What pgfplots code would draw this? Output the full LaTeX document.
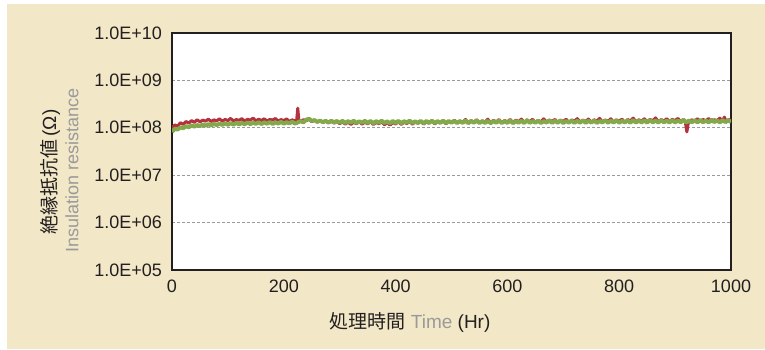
\documentclass[border=0pt]{standalone}
\usepackage{pgfplots}
\pgfplotsset{compat=1.18}
\usepackage{fontspec}
\setmainfont{Liberation Sans}
\newfontfamily\cjk{Noto Sans CJK JP}
\definecolor{beige}{HTML}{F2E8C7}
\definecolor{redser}{HTML}{B3323E}
\definecolor{greenser}{HTML}{84A94B}
\definecolor{txt}{HTML}{231F20}
\definecolor{graytxt}{HTML}{9A9A9A}
\begin{document}
\begin{tikzpicture}[x=1pt,y=1pt]
\useasboundingbox (0,0) rectangle (382.5,174.5);
\fill[white] (0,0) rectangle (382.5,174.5);
\fill[beige] (3.5,0) rectangle (382.5,172.5);
\begin{axis}[
  at={(86pt,39.5pt)}, anchor=south west,
  scale only axis, width=279.5pt, height=118.5pt,
  ymode=log, xmin=0, xmax=1000, ymin=1e5, ymax=1e10,
  axis background/.style={fill=white},
  axis line style={color=txt, line width=0.75pt},
  major tick length=0pt, minor tick num=0,
  xtick={0,200,400,600,800,1000},
  xticklabels={0,200,400,600,800,1000},
  ytick={1e5,1e6,1e7,1e8,1e9,1e10},
  yticklabels={1.0E+05,1.0E+06,1.0E+07,1.0E+08,1.0E+09,1.0E+10},
  log basis y=10,
  yminorticks=false,
  ymajorgrids,
  major grid style={color=gray!80, dash pattern=on 1.5pt off 1pt, line width=0.5pt},
  ticklabel style={font=\fontsize{9}{10}\selectfont, text=txt},
  yticklabel style={xshift=-1.5pt},
  xticklabel style={yshift=-1.5pt},
  clip=true,
]
\addplot[redser, line width=1.5pt, line join=round] coordinates {
(0,1.00e8)(5,1.15e8)(10,1.08e8)(15,1.28e8)(20,1.18e8)(25,1.36e8)(30,1.25e8)(35,1.42e8)(40,1.30e8)(45,1.48e8)
(50,1.33e8)(55,1.45e8)(60,1.38e8)(65,1.52e8)(70,1.36e8)(75,1.47e8)(80,1.40e8)(85,1.55e8)(90,1.37e8)(95,1.50e8)
(100,1.42e8)(105,1.58e8)(110,1.39e8)(115,1.49e8)(120,1.44e8)(125,1.56e8)(130,1.38e8)(135,1.51e8)(140,1.45e8)(145,1.60e8)
(150,1.40e8)(155,1.52e8)(160,1.43e8)(165,1.55e8)(170,1.39e8)(175,1.50e8)(180,1.46e8)(185,1.57e8)(190,1.38e8)(195,1.49e8)
(200,1.42e8)(205,1.54e8)(210,1.36e8)(215,1.47e8)(220,1.40e8)(223,1.44e8)(225,2.60e8)(227,1.42e8)(230,1.36e8)(235,1.48e8)
(240,1.40e8)(245,1.52e8)(250,1.35e8)(255,1.45e8)(260,1.32e8)(265,1.42e8)(270,1.30e8)(275,1.40e8)(280,1.27e8)(285,1.38e8)
(290,1.25e8)(295,1.36e8)(300,1.22e8)(305,1.33e8)(310,1.20e8)(315,1.31e8)(320,1.18e8)(325,1.30e8)(330,1.22e8)(335,1.34e8)
(340,1.19e8)(345,1.32e8)(350,1.21e8)(355,1.35e8)(360,1.17e8)(365,1.30e8)(370,1.22e8)(375,1.33e8)(380,1.16e8)(385,1.28e8)
(390,1.14e8)(395,1.30e8)(400,1.20e8)(405,1.34e8)(410,1.18e8)(415,1.31e8)(420,1.23e8)(425,1.36e8)(430,1.19e8)(435,1.33e8)
(440,1.24e8)(445,1.38e8)(450,1.20e8)(455,1.32e8)(460,1.25e8)(465,1.40e8)(470,1.21e8)(475,1.35e8)(480,1.27e8)(485,1.42e8)
(490,1.22e8)(495,1.37e8)(500,1.28e8)(505,1.45e8)(510,1.26e8)(515,1.40e8)(520,1.30e8)(525,1.50e8)(530,1.27e8)(535,1.42e8)
(540,1.31e8)(545,1.48e8)(550,1.28e8)(555,1.40e8)(560,1.32e8)(565,1.52e8)(570,1.27e8)(575,1.44e8)(580,1.33e8)(585,1.49e8)
(590,1.29e8)(595,1.42e8)(600,1.34e8)(605,1.50e8)(610,1.28e8)(615,1.45e8)(620,1.35e8)(625,1.53e8)(630,1.30e8)(635,1.44e8)
(640,1.36e8)(645,1.51e8)(650,1.29e8)(655,1.43e8)(660,1.34e8)(665,1.55e8)(670,1.31e8)(675,1.46e8)(680,1.37e8)(685,1.50e8)
(690,1.30e8)(695,1.45e8)(700,1.36e8)(705,1.52e8)(710,1.29e8)(715,1.47e8)(720,1.38e8)(725,1.56e8)(730,1.31e8)(735,1.45e8)
(740,1.36e8)(745,1.53e8)(750,1.30e8)(755,1.48e8)(760,1.37e8)(765,1.58e8)(770,1.32e8)(775,1.46e8)(780,1.38e8)(785,1.55e8)
(790,1.31e8)(795,1.47e8)(800,1.39e8)(805,1.52e8)(810,1.30e8)(815,1.49e8)(820,1.40e8)(825,1.60e8)(830,1.33e8)(835,1.48e8)
(840,1.38e8)(845,1.55e8)(850,1.32e8)(855,1.50e8)(860,1.41e8)(865,1.62e8)(870,1.34e8)(875,1.49e8)(880,1.39e8)(885,1.56e8)
(890,1.33e8)(895,1.51e8)(900,1.42e8)(905,1.58e8)(910,1.35e8)(915,1.50e8)(918,1.40e8)(921,0.82e8)(924,1.36e8)(930,1.47e8)
(935,1.39e8)(940,1.55e8)(945,1.34e8)(950,1.50e8)(955,1.40e8)(960,1.57e8)(965,1.35e8)(970,1.48e8)(975,1.41e8)(980,1.60e8)
(985,1.36e8)(988,1.68e8)(992,1.33e8)(996,1.50e8)(1000,1.40e8)
};
\addplot[greenser, line width=2pt, line join=round] coordinates {
(0,0.82e8)(5,0.95e8)(10,0.92e8)(15,1.02e8)(20,0.98e8)(25,1.08e8)(30,1.03e8)(35,1.12e8)(40,1.06e8)(45,1.14e8)
(50,1.09e8)(55,1.17e8)(60,1.11e8)(65,1.19e8)(70,1.12e8)(75,1.21e8)(80,1.14e8)(85,1.22e8)(90,1.15e8)(95,1.24e8)
(100,1.16e8)(105,1.25e8)(110,1.17e8)(115,1.27e8)(120,1.18e8)(125,1.26e8)(130,1.19e8)(135,1.29e8)(140,1.20e8)(145,1.28e8)
(150,1.21e8)(155,1.31e8)(160,1.20e8)(165,1.30e8)(170,1.22e8)(175,1.32e8)(180,1.21e8)(185,1.30e8)(190,1.23e8)(195,1.33e8)
(200,1.22e8)(205,1.31e8)(210,1.24e8)(215,1.34e8)(220,1.23e8)(225,1.30e8)(230,1.38e8)(235,1.30e8)(240,1.48e8)(245,1.55e8)
(250,1.40e8)(255,1.45e8)(260,1.33e8)(265,1.42e8)(270,1.31e8)(275,1.40e8)(280,1.29e8)(285,1.41e8)(290,1.30e8)(295,1.39e8)
(300,1.28e8)(305,1.40e8)(310,1.27e8)(315,1.38e8)(320,1.29e8)(325,1.41e8)(330,1.26e8)(335,1.37e8)(340,1.28e8)(345,1.40e8)
(350,1.27e8)(355,1.39e8)(360,1.25e8)(365,1.38e8)(370,1.28e8)(375,1.41e8)(380,1.26e8)(385,1.37e8)(390,1.24e8)(395,1.39e8)
(400,1.27e8)(405,1.40e8)(410,1.25e8)(415,1.38e8)(420,1.28e8)(425,1.42e8)(430,1.26e8)(435,1.37e8)(440,1.27e8)(445,1.40e8)
(450,1.25e8)(455,1.39e8)(460,1.28e8)(465,1.41e8)(470,1.26e8)(475,1.38e8)(480,1.27e8)(485,1.42e8)(490,1.25e8)(495,1.39e8)
(500,1.28e8)(505,1.40e8)(510,1.26e8)(515,1.38e8)(520,1.27e8)(525,1.41e8)(530,1.25e8)(535,1.39e8)(540,1.28e8)(545,1.42e8)
(550,1.26e8)(555,1.38e8)(560,1.27e8)(565,1.40e8)(570,1.25e8)(575,1.39e8)(580,1.28e8)(585,1.41e8)(590,1.26e8)(595,1.38e8)
(600,1.27e8)(605,1.42e8)(610,1.25e8)(615,1.39e8)(620,1.28e8)(625,1.40e8)(630,1.26e8)(635,1.45e8)(640,1.27e8)(645,1.39e8)
(650,1.28e8)(655,1.41e8)(660,1.26e8)(665,1.38e8)(670,1.29e8)(675,1.42e8)(680,1.27e8)(685,1.40e8)(690,1.28e8)(695,1.43e8)
(700,1.26e8)(705,1.39e8)(710,1.29e8)(715,1.41e8)(720,1.27e8)(725,1.40e8)(730,1.28e8)(735,1.44e8)(740,1.27e8)(745,1.40e8)
(750,1.29e8)(755,1.42e8)(760,1.27e8)(765,1.39e8)(770,1.30e8)(775,1.43e8)(780,1.28e8)(785,1.41e8)(790,1.29e8)(795,1.44e8)
(800,1.28e8)(805,1.40e8)(810,1.30e8)(815,1.42e8)(820,1.28e8)(825,1.45e8)(830,1.29e8)(835,1.41e8)(840,1.30e8)(845,1.43e8)
(850,1.28e8)(855,1.46e8)(860,1.30e8)(865,1.42e8)(870,1.29e8)(875,1.44e8)(880,1.31e8)(885,1.41e8)(890,1.29e8)(895,1.45e8)
(900,1.30e8)(905,1.42e8)(910,1.31e8)(915,1.47e8)(920,1.29e8)(925,1.42e8)(930,1.31e8)(935,1.44e8)(940,1.30e8)(945,1.46e8)
(950,1.31e8)(955,1.42e8)(960,1.30e8)(965,1.48e8)(970,1.32e8)(975,1.43e8)(980,1.30e8)(985,1.45e8)(990,1.32e8)(995,1.44e8)
(1000,1.33e8)
};
\end{axis}
\node[rotate=90, text=txt, font=\fontsize{9.5}{10}\selectfont, inner sep=0pt] at (25,88.5) {{\cjk 絶縁抵抗値}\,(Ω)};
\node[rotate=90, text=graytxt, font=\fontsize{9}{10}\selectfont, inner sep=0pt] at (36,89.5) {Insulation resistance};
\node[text=txt, font=\fontsize{9.5}{10}\selectfont, inner sep=0pt] at (205,13.5) {{\cjk 処理時間} \textcolor{graytxt}{Time} (Hr)};
\end{tikzpicture}
\end{document}
